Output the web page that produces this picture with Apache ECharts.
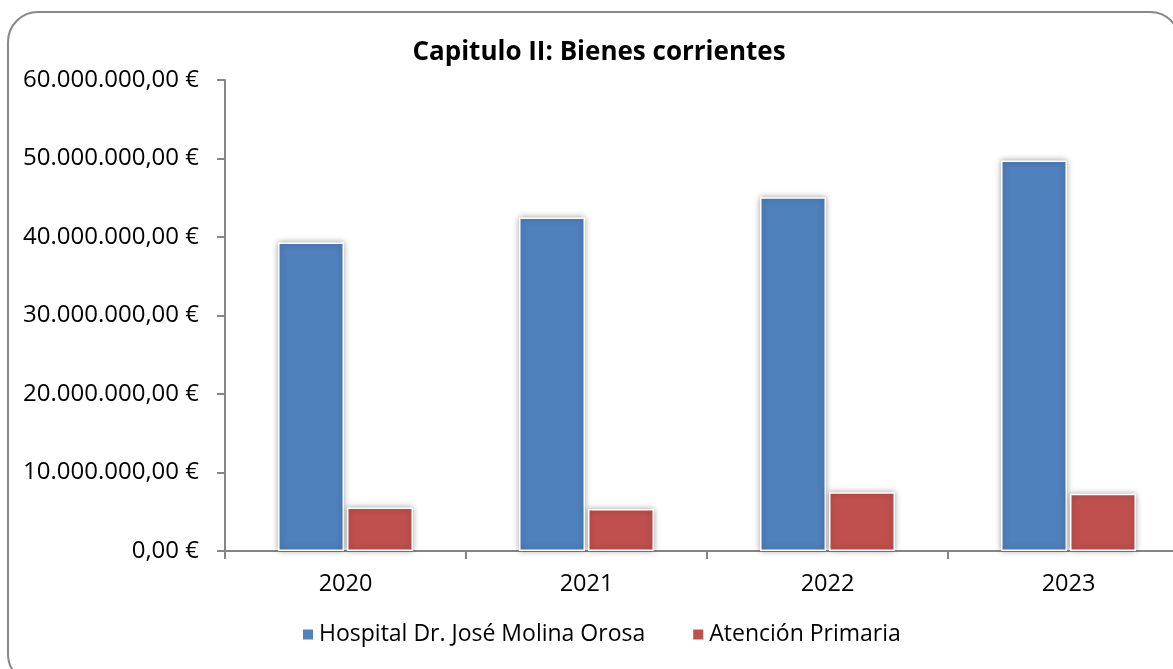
<!DOCTYPE html>
<html>
<head>
<meta charset="utf-8">
<script src="https://cdn.jsdelivr.net/npm/echarts@6/dist/echarts.min.js"></script>
<style>
html,body{margin:0;padding:0;background:#fff;overflow:hidden;}
#c{width:1189px;height:669px;}
</style>
</head>
<body>
<div id="c"></div>
<script>
const categories = ['2020', '2021', '2022', '2023'];
const hospital = [39300000, 42500000, 45050000, 49750000];
const primaria = [5550000, 5350000, 7500000, 7280000];
const seriesNames = ['Hospital Dr. José Molina Orosa', 'Atención Primaria'];
const yTicks = { min: 0, max: 60000000, interval: 10000000 };

function fmt(v) {
  const s = String(Math.round(v)).replace(/\B(?=(\d{3})+(?!\d))/g, '.');
  return s + ',00 €';
}

const FONT = 'Open Sans';
const chart = echarts.init(document.getElementById('c'));
chart.setOption({
  animation: false,
  backgroundColor: '#fff',
  textStyle: { fontFamily: FONT },
  graphic: [{
    type: 'rect',
    shape: { x: 8, y: 12, width: 1172, height: 672, r: 30 },
    style: { fill: 'none', stroke: '#888', lineWidth: 2 },
    silent: true, z: -1
  }],
  title: {
    text: 'Capitulo II: Bienes corrientes',
    left: 594, top: 35, textAlign: 'center',
    textStyle: { fontFamily: FONT, fontSize: 26, fontWeight: 'bold', color: '#000' }
  },
  legend: {
    bottom: 18, left: 296,
    itemWidth: 12, itemHeight: 12, itemGap: 46,
    icon: 'rect',
    textStyle: { fontFamily: FONT, fontSize: 23, color: '#000' },
    data: seriesNames
  },
  grid: { left: 225, top: 80, bottom: 118, right: 0, containLabel: false },
  xAxis: {
    type: 'category', data: categories,
    axisLine: { lineStyle: { color: '#868686', width: 2 } },
    axisTick: { show: true, length: 8, alignWithLabel: false, lineStyle: { color: '#868686', width: 2 } },
    axisLabel: { fontFamily: FONT, fontSize: 23.5, color: '#000', margin: 21 }
  },
  yAxis: {
    type: 'value', min: yTicks.min, max: yTicks.max, interval: yTicks.interval,
    axisLine: { show: true, lineStyle: { color: '#868686', width: 2 } },
    axisTick: { show: true, length: 8, lineStyle: { color: '#868686', width: 2 } },
    splitLine: { show: false },
    axisLabel: { fontFamily: FONT, fontSize: 24, color: '#000', margin: 26, formatter: fmt }
  },
  series: [
    {
      name: seriesNames[0], type: 'bar', data: hospital,
      barCategoryGap: '44%', barGap: '4.5%',
      itemStyle: { color: '#4F81BD', borderColor: '#fff', borderWidth: 1.5,
        shadowColor: 'rgba(0,0,0,0.35)', shadowBlur: 6 }
    },
    {
      name: seriesNames[1], type: 'bar', data: primaria,
      itemStyle: { color: '#C0504D', borderColor: '#fff', borderWidth: 1.5,
        shadowColor: 'rgba(0,0,0,0.35)', shadowBlur: 6 }
    }
  ]
});
</script>
</body>
</html>
